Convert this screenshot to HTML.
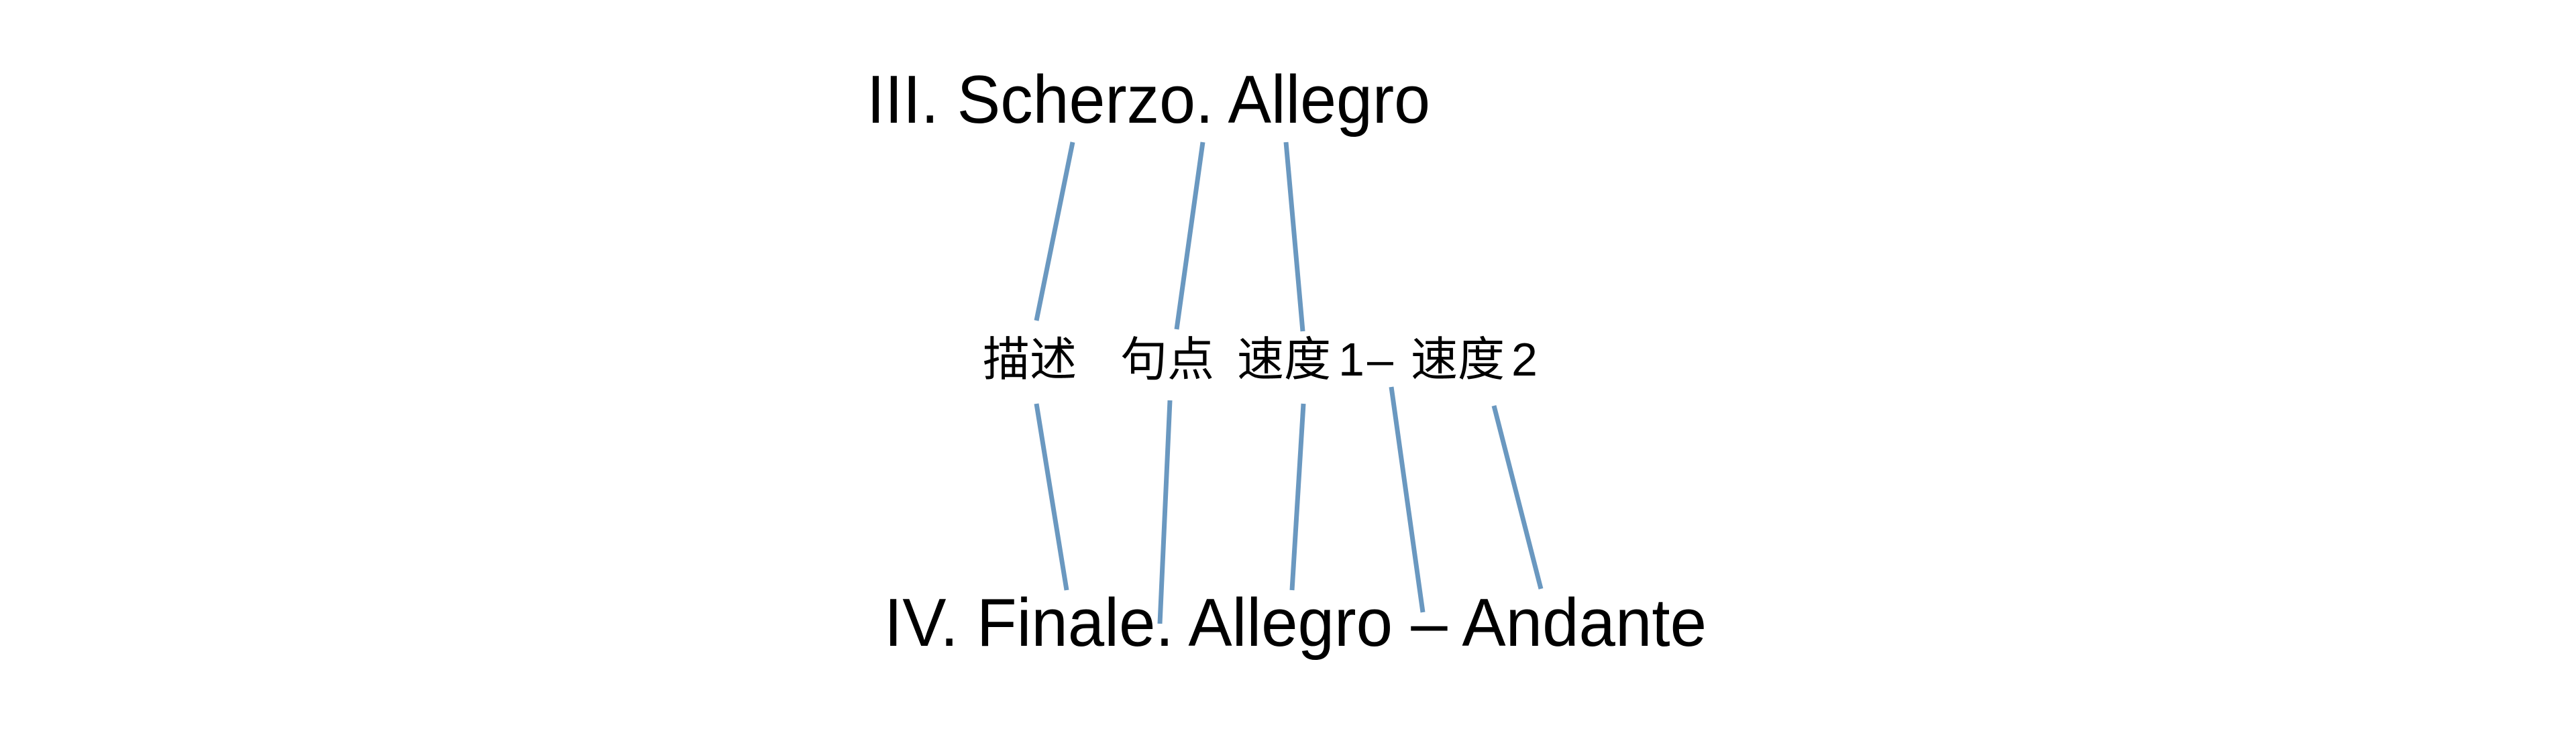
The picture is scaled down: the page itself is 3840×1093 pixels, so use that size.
<!DOCTYPE html>
<html><head><meta charset="utf-8"><style>
html,body{margin:0;padding:0;background:#fff;}
svg{display:block}
</style></head><body>
<svg width="3840" height="1093" viewBox="0 0 3840 1093" xmlns="http://www.w3.org/2000/svg">
<rect width="3840" height="1093" fill="#fff"/>
<g font-family="Liberation Sans, Noto Sans CJK SC, sans-serif" fill="#000">
<text x="1292" y="183" font-size="101" textLength="840" lengthAdjust="spacingAndGlyphs">III. Scherzo. Allegro</text>
<text x="1318" y="963" font-size="101" textLength="1226" lengthAdjust="spacingAndGlyphs">IV. Finale. Allegro – Andante</text>
<g font-size="70">
<text x="1465" y="560">描述</text>
<text x="1670" y="560">句点</text>
<text x="1844" y="560">速度</text>
<text x="1995" y="560" font-family="Liberation Sans, sans-serif">1</text>
<text x="2038" y="560" font-family="Liberation Sans, sans-serif">–</text>
<text x="2103" y="560">速度</text>
<text x="2253" y="560" font-family="Liberation Sans, sans-serif">2</text>
</g>
</g>
<g stroke="#6a98c0" stroke-width="7" fill="none">
<line x1="1599" y1="212" x2="1545" y2="478"/>
<line x1="1793" y1="212" x2="1754" y2="491"/>
<line x1="1917" y1="212" x2="1942" y2="494"/>
<line x1="1545" y1="602" x2="1590" y2="880"/>
<line x1="1744" y1="597" x2="1729" y2="930"/>
<line x1="1943" y1="602" x2="1926" y2="880"/>
<line x1="2074" y1="577" x2="2121" y2="913"/>
<line x1="2227" y1="605" x2="2297" y2="878"/>
</g>
</svg>
</body></html>
